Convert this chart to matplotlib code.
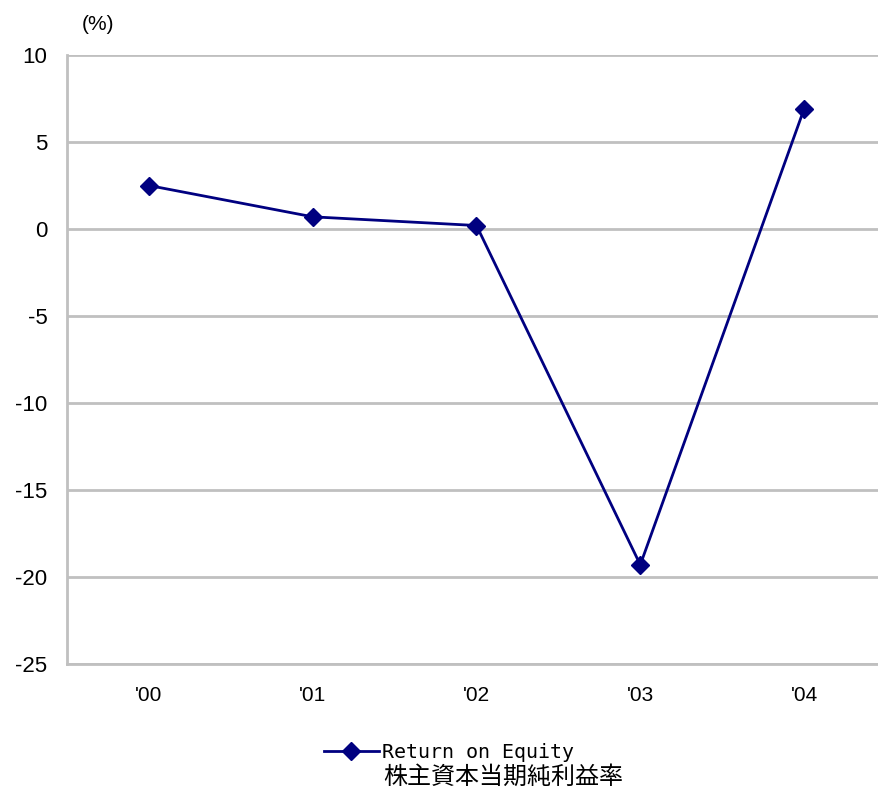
import matplotlib
matplotlib.use("Agg")
import matplotlib.pyplot as plt
from matplotlib.lines import Line2D

years = ["'00", "'01", "'02", "'03", "'04"]
roe = [2.5, 0.7, 0.2, -19.3, 6.9]
yticks = [10, 5, 0, -5, -10, -15, -20, -25]
label_en = "Return on Equity"
label_ja = "株主資本当期純利益率"

W, H = 879, 789
fig = plt.figure(figsize=(W/100, H/100), dpi=100)
left, right, top, bottom = 67, 886, 55, 664
ax = fig.add_axes([left/W, 1-bottom/H, (right-left)/W, (bottom-top)/H])

navy = "#000080"
grid = "#c0c0c0"
x = list(range(len(years)))
ax.plot(x, roe, color=navy, lw=2, marker="D", ms=9, mfc=navy, mec=navy, clip_on=False)

ax.set_xlim(-0.5, len(years)-0.5)
ax.set_ylim(-25, 10)
ax.set_yticks(yticks)
ax.set_yticklabels([str(v) for v in yticks], fontsize=16, family="Liberation Sans")
ax.set_xticks(x)
ax.set_xticklabels(years, fontsize=15, family="Liberation Sans")
ax.tick_params(axis="both", length=0)
ax.tick_params(axis="y", pad=14)
ax.tick_params(axis="x", pad=16)
for yv in yticks:
    ax.axhline(yv, color=grid, lw=2, zorder=0)
for s in ["top", "right"]:
    ax.spines[s].set_visible(False)
for s in ["left", "bottom"]:
    ax.spines[s].set_color(grid)
    ax.spines[s].set_linewidth(2)

fig.text(98/W, 1-25/H, "(%)", fontsize=15, family="Liberation Sans", ha="center", va="center")

fs = 14.4
handle = Line2D([0], [0], color=navy, lw=2, marker="D", ms=9, mfc=navy, mec=navy)
fig.legend([handle], [label_en], loc="center left", bbox_to_anchor=(324/W, 1-752/H),
           frameon=False, prop={"family": ["DejaVu Sans Mono"], "size": fs},
           handlelength=55/20, handletextpad=0.15, borderpad=0, borderaxespad=0)
fig.text(383/W, 1-777/H, label_ja, fontsize=17.3,
         family=["Noto Sans CJK JP", "DejaVu Sans"], ha="left", va="center")

fig.savefig("out.png", dpi=100)
